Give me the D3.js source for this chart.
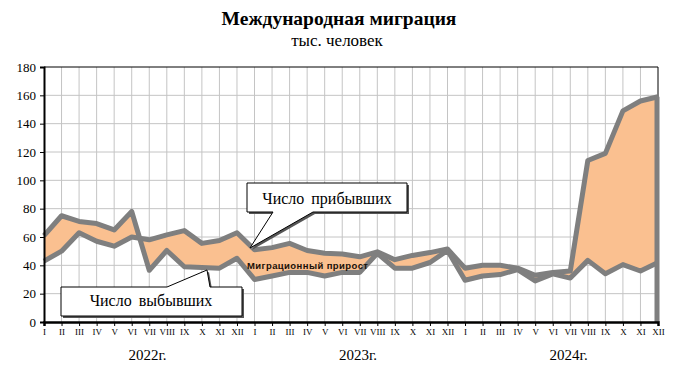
<!DOCTYPE html>
<html><head><meta charset="utf-8">
<script src="https://cdn.jsdelivr.net/npm/d3@7"></script>
<style>body{margin:0;background:#fff}</style>
</head><body>
<svg id="c" width="676" height="368"></svg>
<script>
const months = ["I","II","III","IV","V","VI","VII","VIII","IX","X","XI","XII"];
const years = ["2022г.","2023г.","2024г."];
const yTicks = [0,20,40,60,80,100,120,140,160,180];
// monthly values, thousand persons (I 2022 ... XII 2024)
const arrivals = [
  43, 50, 63, 57, 53.5, 60, 58, 61.5, 64.5, 55.5, 57.5, 63,
  51, 52.5, 55.5, 50.5, 48.5, 48, 46, 49.5, 44, 47, 49, 51.5,
  38, 40, 40, 38, 33, 35, 36, 114, 119, 149, 156, 159
];
const departures = [
  61, 75, 71, 69.5, 65, 78, 36.5, 50.5, 39, 38.5, 38, 45,
  30, 32.5, 35, 35, 32.5, 35, 35, 48.5, 38, 38, 42, 50.5,
  29.5, 32.5, 33.5, 37, 29, 34, 31, 43.5, 34, 40.5, 36, 42
];
const title = "Международная миграция";
const subtitle = "тыс. человек";
const labelArr = "Число прибывших";
const labelDep = "Число выбывших";
const labelGrowth = "Миграционный прирост";

const svg = d3.select("#c");
const L = 44, R = 658, T = 67, B = 322;
const n = arrivals.length;
const x = d3.scaleLinear().domain([0, n - 1]).range([L, R]);
const y = d3.scaleLinear().domain([0, 180]).range([B, T]);
const serif = "'Liberation Serif','Times New Roman',serif";
const sans = "'Liberation Sans',Arial,sans-serif";

// title
svg.append("text").attr("x", 339).attr("y", 25).attr("text-anchor", "middle")
  .attr("font-family", serif).attr("font-weight", "bold").attr("font-size", 19.5).text(title);
svg.append("text").attr("x", 337).attr("y", 46).attr("text-anchor", "middle")
  .attr("font-family", serif).attr("font-size", 17).text(subtitle);

// grid
const g = svg.append("g");
g.selectAll("line.h").data(yTicks.slice(1, -1)).join("line")
  .attr("x1", L).attr("x2", R).attr("y1", d => y(d)).attr("y2", d => y(d))
  .attr("stroke", "#c4c4c4").attr("stroke-width", 1);
g.selectAll("line.v").data(d3.range(1, n - 1)).join("line")
  .attr("x1", d => x(d)).attr("x2", d => x(d)).attr("y1", T).attr("y2", B)
  .attr("stroke", "#c4c4c4").attr("stroke-width", 1);

// area between series
const idx = d3.range(n);
const area = d3.area().x(i => x(i)).y0(i => y(departures[i])).y1(i => y(arrivals[i]));
svg.append("path").datum(idx).attr("d", area).attr("fill", "#FAC090");

// border top/right
svg.append("path").attr("d", `M${L},${T}H${R}V${B}`).attr("fill", "none")
  .attr("stroke", "#000").attr("stroke-width", 1);

// lines
const lineGen = arr => d3.line().x(i => x(i)).y(i => y(arr[i]));
[arrivals, departures].forEach(arr => {
  svg.append("path").datum(idx).attr("d", lineGen(arr)).attr("fill", "none")
    .attr("stroke", "#7f7f7f").attr("stroke-width", 5).attr("stroke-linejoin", "round");
});
// right edge drop
svg.append("line").attr("x1", x(n - 1) - 1).attr("x2", x(n - 1) - 1)
  .attr("y1", y(Math.max(arrivals[n - 1], departures[n - 1]))).attr("y2", y(0))
  .attr("stroke", "#7f7f7f").attr("stroke-width", 5);

// axes
const yAxis = d3.axisLeft(y).tickValues(yTicks).tickSize(4).tickPadding(4);
const ya = svg.append("g").attr("transform", `translate(${L},0)`).call(yAxis);
ya.select(".domain").attr("stroke-width", 2);
ya.selectAll("text").attr("font-family", serif).attr("font-size", 13).attr("fill", "#000");

const monthLabels = d3.range(n).map(i => months[i % 12]);
const xAxis = d3.axisBottom(x).tickValues(idx).tickFormat(i => monthLabels[i]).tickSize(4).tickPadding(3);
const xa = svg.append("g").attr("transform", `translate(0,${B})`).call(xAxis);
xa.select(".domain").attr("stroke-width", 2.5);
xa.selectAll("text").attr("font-family", serif).attr("font-size", 9).attr("fill", "#000");

// years
svg.selectAll("text.yr").data(years).join("text")
  .attr("x", (d, k) => x(12 * k + 5.9)).attr("y", 360).attr("text-anchor", "middle")
  .attr("font-family", serif).attr("font-size", 15).text(d => d);

// callouts
function callout(path, tx, ty, txt) {
  svg.append("path").attr("d", path).attr("fill", "#555").attr("transform", "translate(2,2)");
  svg.append("path").attr("d", path).attr("fill", "#fff").attr("stroke", "#000").attr("stroke-width", 1);
  svg.append("text").attr("x", tx).attr("y", ty).attr("text-anchor", "middle")
    .attr("font-family", serif).attr("font-size", 16).attr("word-spacing", 3).text(txt);
}
callout("M247,183H407V212H313L250,248L273,212H247Z", 327, 204, labelArr);
callout("M61,287H167L207,270L210,287H242V316H61Z", 151, 306, labelDep);

svg.append("text").attr("x", 247).attr("y", 268.5)
  .attr("font-family", sans).attr("font-weight", "bold").attr("font-size", 9.5)
  .attr("fill", "#1a1008").attr("textLength", 121).attr("lengthAdjust", "spacing").text(labelGrowth);
</script>
</body></html>
